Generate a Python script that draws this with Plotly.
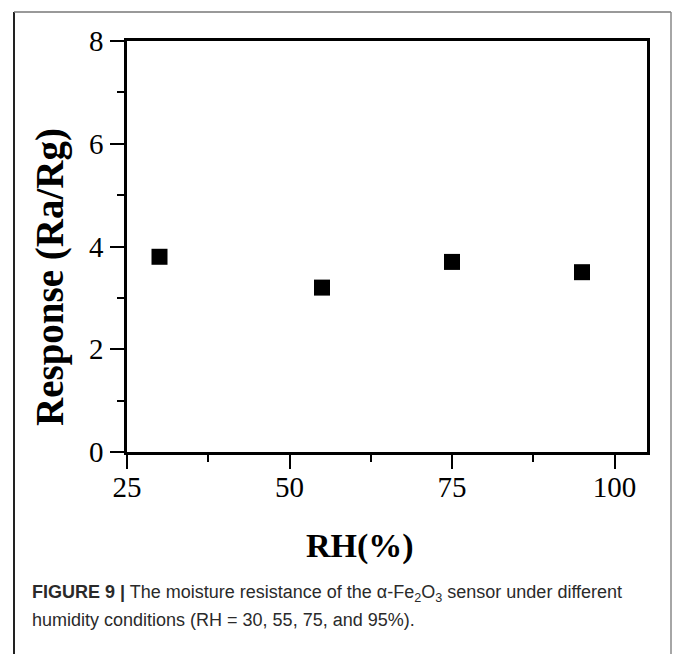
import plotly.graph_objects as go

rh = [30, 55, 75, 95]
response = [3.8, 3.2, 3.7, 3.5]
x_ticks = [25, 50, 75, 100]
y_ticks = [0, 2, 4, 6, 8]

W, H = 673, 654
L, R, T, B = 127, 26, 41, 202
pw, ph = W - L - R, H - T - B

def px(x):
    return (x - L) / pw

def py(y):
    return (H - B - y) / ph

fig = go.Figure()
fig.add_trace(go.Scatter(
    x=rh, y=response, mode="markers",
    marker=dict(symbol="square", size=16, color="black", line=dict(width=0)),
    showlegend=False,
))

axis_common = dict(
    showline=True, linecolor="black", linewidth=2.5, mirror=True,
    ticks="outside", tickcolor="black", tickwidth=2, ticklen=14,
    showgrid=False, zeroline=False,
    tickfont=dict(family="Liberation Serif, Times New Roman, serif", size=29, color="black"),
)

fig.update_xaxes(range=[25, 105], tickmode="array", tickvals=x_ticks,
                 ticktext=[str(v) for v in x_ticks], ticklabelstandoff=-7,
                 minor=dict(ticks="outside", dtick=12.5, tick0=25, ticklen=7, tickwidth=2, tickcolor="black"),
                 **axis_common)
fig.update_yaxes(range=[0, 8], tickmode="array", tickvals=y_ticks,
                 ticktext=[str(v) for v in y_ticks], ticklabelstandoff=1,
                 minor=dict(ticks="outside", dtick=1, tick0=0, ticklen=7, tickwidth=2, tickcolor="black"),
                 **axis_common)

annotations = [
    dict(text="<b>Response (Ra/Rg)</b>", x=px(50), y=py(277), xref="paper", yref="paper",
         textangle=-90, showarrow=False, xanchor="center", yanchor="middle",
         font=dict(family="Liberation Serif, Times New Roman, serif", size=39, color="black")),
    dict(text="<b>RH(%)</b>", x=px(360), y=py(546), xref="paper", yref="paper",
         showarrow=False, xanchor="center", yanchor="middle",
         font=dict(family="Liberation Serif, Times New Roman, serif", size=34, color="black")),
    dict(text="<b>FIGURE 9 |</b> The moisture resistance of the α-Fe<sub>2</sub>O<sub>3</sub> sensor under different",
         x=px(30), y=py(593), xref="paper", yref="paper", showarrow=False,
         xanchor="left", yanchor="middle",
         font=dict(family="Liberation Sans Narrow, Liberation Sans, Arial, sans-serif", size=18, color="#2a2a2a")),
    dict(text="humidity conditions (RH = 30, 55, 75, and 95%).",
         x=px(30), y=py(620), xref="paper", yref="paper", showarrow=False,
         xanchor="left", yanchor="middle",
         font=dict(family="Liberation Sans Narrow, Liberation Sans, Arial, sans-serif", size=18, color="#2a2a2a")),
]

shapes = [
    dict(type="line", xref="paper", yref="paper", x0=px(14), x1=px(14), y0=py(12), y1=py(660),
         line=dict(color="#222222", width=2)),
    dict(type="line", xref="paper", yref="paper", x0=px(14), x1=px(671), y0=py(12), y1=py(12),
         line=dict(color="#777777", width=1.5)),
    dict(type="line", xref="paper", yref="paper", x0=px(671), x1=px(671), y0=py(12), y1=py(660),
         line=dict(color="#888888", width=1.5)),
]

fig.update_layout(
    width=W, height=H,
    margin=dict(l=L, r=R, t=T, b=B),
    paper_bgcolor="white", plot_bgcolor="white",
    annotations=annotations, shapes=shapes,
)

fig.write_html("out.html", config={"displayModeBar": False},
               post_script="document.body.style.margin='0';document.body.style.overflow='hidden';")
